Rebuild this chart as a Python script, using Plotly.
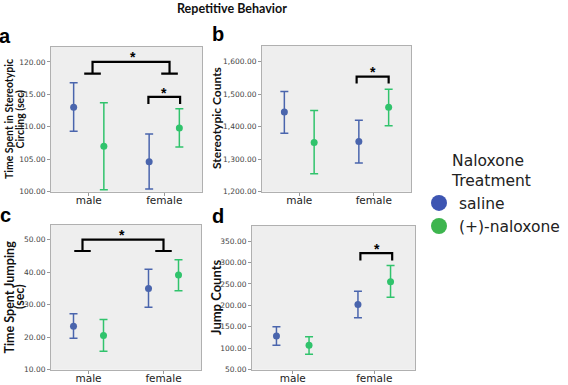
import plotly.graph_objects as go

W, H = 568, 385

# ---------------- data ----------------
categories = ["male", "female"]
groups = ["saline", "(+)-naloxone"]

# panel a: Time Spent in Stereotypic Circling (sec)
a_saline_mean = [113.0, 104.6]
a_saline_lo = [109.3, 100.4]
a_saline_hi = [116.8, 108.9]
a_nalox_mean = [107.0, 109.8]
a_nalox_lo = [100.3, 106.9]
a_nalox_hi = [113.7, 112.8]

# panel b: Stereotypic Counts
b_saline_mean = [1445, 1354]
b_saline_lo = [1380, 1288]
b_saline_hi = [1508, 1420]
b_nalox_mean = [1351, 1460]
b_nalox_lo = [1255, 1403]
b_nalox_hi = [1450, 1515]

# panel c: Time Spent Jumping (sec)
c_saline_mean = [23.4, 35.0]
c_saline_lo = [19.7, 29.2]
c_saline_hi = [27.2, 40.9]
c_nalox_mean = [20.5, 39.1]
c_nalox_lo = [15.7, 34.3]
c_nalox_hi = [25.4, 43.8]

# panel d: Jump Counts
d_saline_mean = [128.7, 202]
d_saline_lo = [107, 171]
d_saline_hi = [150, 233]
d_nalox_mean = [107, 255]
d_nalox_lo = [86, 219]
d_nalox_hi = [127, 293]

# y tick values per panel
a_ticks = [100, 105, 110, 115, 120]
b_ticks = [1200, 1300, 1400, 1500, 1600]
c_ticks = [10, 20, 30, 40, 50]
d_ticks = [50, 100, 150, 200, 250, 300, 350]

# significance brackets: (x_left, x_right, y_top, y_foot)
a_sex_bracket = (0.05, 1.07, 120.0, 118.2)
a_female_bracket = (0.79, 1.21, 114.6, 113.5)
b_female_bracket = (0.77, 1.20, 1554, 1533)
c_sex_bracket = (-0.08, 1.0, 50.0, 46.5)
d_female_bracket = (0.83, 1.22, 322, 305)
# star positions (x, y)
a_stars = [(0.58, 121.2), (1.0, 115.7)]
b_stars = [(0.99, 1578)]
c_stars = [(0.44, 52.4)]
d_stars = [(1.03, 339)]

# ---------------- style ----------------
BLUE = "#4a65ad"
GREEN = "#30c36c"
LEG_BLUE = "#3d55b2"
LEG_GREEN = "#3db54e"
OFFSET = 0.2

def px_x(p):
    return p / W

def px_y(p):
    return 1 - p / H

panels = {
    "a": dict(xd=(51, 202), yd=(47, 191.7), rng=(100, 122.3), ticks=a_ticks, fmt=".2f",
              s=(a_saline_mean, a_saline_lo, a_saline_hi), n=(a_nalox_mean, a_nalox_lo, a_nalox_hi)),
    "b": dict(xd=(262, 411), yd=(46, 191.7), rng=(1200, 1648), ticks=b_ticks, fmt=",.2f",
              s=(b_saline_mean, b_saline_lo, b_saline_hi), n=(b_nalox_mean, b_nalox_lo, b_nalox_hi)),
    "c": dict(xd=(51, 201), yd=(225, 369.7), rng=(10, 54.5), ticks=c_ticks, fmt=".2f",
              s=(c_saline_mean, c_saline_lo, c_saline_hi), n=(c_nalox_mean, c_nalox_lo, c_nalox_hi)),
    "d": dict(xd=(252, 415), yd=(225.7, 369.7), rng=(50, 386), ticks=d_ticks, fmt=".2f",
              s=(d_saline_mean, d_saline_lo, d_saline_hi), n=(d_nalox_mean, d_nalox_lo, d_nalox_hi)),
}

fig = go.Figure()
layout = dict(width=W, height=H, margin=dict(l=0, r=0, t=0, b=0, autoexpand=False),
              paper_bgcolor="white", plot_bgcolor="#eeeeee", shapes=[], annotations=[])

for i, (key, p) in enumerate(panels.items()):
    idx = "" if i == 0 else str(i + 1)
    xa, ya = "x" + idx, "y" + idx
    for series, color, off in ((p["s"], BLUE, -OFFSET), (p["n"], GREEN, OFFSET)):
        mean, lo, hi = series
        xs = [j + off for j in range(len(categories))]
        fig.add_trace(go.Scatter(
            x=xs, y=mean, mode="markers", xaxis=xa, yaxis=ya, showlegend=False,
            marker=dict(color=color, size=7),
            error_y=dict(type="data", symmetric=False,
                         array=[h - m for h, m in zip(hi, mean)],
                         arrayminus=[m - l for m, l in zip(mean, lo)],
                         color=color, thickness=1.5, width=4),
        ))
    layout["xaxis" + idx] = dict(
        domain=[px_x(p["xd"][0]), px_x(p["xd"][1])], anchor=ya, range=[-0.5, 1.5],
        tickvals=list(range(len(categories))), ticktext=categories,
        showgrid=False, zeroline=False, showline=True, mirror=True, linecolor="#b0b0b0",
        ticks="outside", ticklen=3, tickcolor="#999999", ticklabelstandoff=-4,
        tickfont=dict(family="DejaVu Sans", size=10.5, color="#222222"))
    layout["yaxis" + idx] = dict(
        domain=[px_y(p["yd"][1]), px_y(p["yd"][0])], anchor=xa, range=list(p["rng"]),
        tickvals=p["ticks"], tickformat=p["fmt"],
        showgrid=False, zeroline=False, showline=True, mirror=True, linecolor="#b0b0b0",
        ticks="outside", ticklen=3, tickcolor="#999999",
        tickfont=dict(family="DejaVu Sans", size=7.5, color="#444444"))

def wide_bracket(br, xa, ya, fw=0.11):
    xl, xr, yt, yf = br
    path = (f"M {xl-fw} {yf} L {xl+fw} {yf} M {xl} {yf} L {xl} {yt} L {xr} {yt} L {xr} {yf} "
            f"M {xr-fw} {yf} L {xr+fw} {yf}")
    return dict(type="path", path=path, xref=xa, yref=ya, line=dict(color="black", width=2.2))

def narrow_bracket(br, xa, ya):
    xl, xr, yt, yf = br
    path = f"M {xl} {yf} L {xl} {yt} L {xr} {yt} L {xr} {yf}"
    return dict(type="path", path=path, xref=xa, yref=ya, line=dict(color="black", width=2.2))

layout["shapes"] += [
    wide_bracket(a_sex_bracket, "x", "y"),
    narrow_bracket(a_female_bracket, "x", "y"),
    narrow_bracket(b_female_bracket, "x2", "y2"),
    wide_bracket(c_sex_bracket, "x3", "y3"),
    narrow_bracket(d_female_bracket, "x4", "y4"),
]

for stars, xa, ya in ((a_stars, "x", "y"), (b_stars, "x2", "y2"), (c_stars, "x3", "y3"), (d_stars, "x4", "y4")):
    for sx, sy in stars:
        layout["annotations"].append(dict(x=sx, y=sy, xref=xa, yref=ya, text="<b>*</b>", showarrow=False,
                                          xanchor="center", yanchor="middle", yshift=-3,
                                          font=dict(family="Liberation Sans", size=14, color="black")))

# panel letters
for letter, (lx, ly) in {"a": (5, 36), "b": (218, 34), "c": (5, 215), "d": (218, 216)}.items():
    layout["annotations"].append(dict(x=px_x(lx), y=px_y(ly), xref="paper", yref="paper", text=f"<b>{letter}</b>",
                                      xanchor="center", yanchor="middle", showarrow=False,
                                      font=dict(family="Liberation Sans", size=20, color="black")))

# y-axis titles (one annotation per line for tight line spacing)
ytitles = [
    ("Time Spent in Stereotypic", 9, 119, 10.5),
    ("Circling (sec)", 19.5, 119, 10.5),
    ("Stereotypic Counts", 216, 118, 12),
    ("Time Spent Jumping", 8.5, 297, 12.5),
    ("(sec)", 19, 297, 12.5),
    ("Jump Counts", 215.5, 297.5, 13),
]
for txt, tx, ty, fs in ytitles:
    layout["annotations"].append(dict(x=px_x(tx), y=px_y(ty), xref="paper", yref="paper", text=f"<b>{txt}</b>",
                                      textangle=-90, showarrow=False, xanchor="center", yanchor="middle",
                                      font=dict(family="Lato", size=fs, color="#111111")))

# main title
layout["annotations"].append(dict(x=px_x(232), y=px_y(8), xref="paper", yref="paper",
                                  text="<b>Repetitive Behavior</b>", showarrow=False,
                                  xanchor="center", yanchor="middle",
                                  font=dict(family="Lato", size=12.5, color="#111111")))

# legend entries
for name, color in zip(groups, (LEG_BLUE, LEG_GREEN)):
    fig.add_trace(go.Scatter(x=[None], y=[None], mode="markers", name=name,
                             marker=dict(color=color, size=16)))

layout["legend"] = dict(
    x=px_x(419), y=px_y(146), xanchor="left", yanchor="top", bgcolor="rgba(0,0,0,0)",
    title=dict(text="Naloxone<br>Treatment", side="top center",
               font=dict(family="DejaVu Sans", size=15.5, color="#222222")),
    font=dict(family="DejaVu Sans", size=15.5, color="#222222"),
    itemsizing="trace", tracegroupgap=0)

fig.update_layout(**layout)
fig.write_html("out.html", config={"displayModeBar": False},
               post_script="document.body.style.margin='0';document.body.style.overflow='hidden';")
